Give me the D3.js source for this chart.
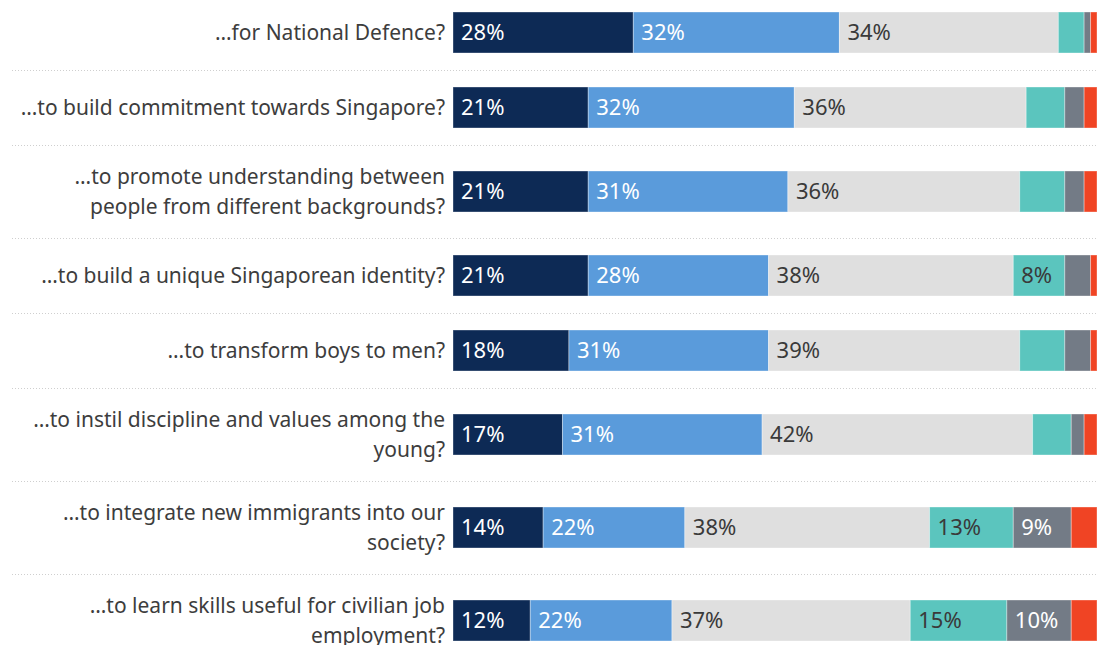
<!DOCTYPE html>
<html><head><meta charset="utf-8">
<script src="https://cdn.jsdelivr.net/npm/d3@7"></script>
<style>body{margin:0;background:#fff}svg{display:block}</style>
</head><body>
<svg id="c" width="1099" height="645"></svg>
<script>
const categories = [
  ["…for National Defence?"],
  ["…to build commitment towards Singapore?"],
  ["…to promote understanding between", "people from different backgrounds?"],
  ["…to build a unique Singaporean identity?"],
  ["…to transform boys to men?"],
  ["…to instil discipline and values among the", "young?"],
  ["…to integrate new immigrants into our", "society?"],
  ["…to learn skills useful for civilian job", "employment?"]
];
const seriesNames = ["s1","s2","s3","s4","s5","s6"];
const s1 = [28,21,21,21,18,17,14,12];
const s2 = [32,32,31,28,31,31,22,22];
const s3 = [34,36,36,38,39,42,38,37];
const s4 = [4,6,7,8,7,6,13,15];
const s5 = [1,3,3,4,4,2,9,10];
const s6 = [1,2,2,1,1,2,4,4];
const colors = ["#0d2a55","#5a9bdb","#dfdfdf","#5bc5be","#737b86","#f04424"];
const textColors = ["#fff","#fff","#3a3a3a","#3a3a3a","#fff","#fff"];

const series = [s1,s2,s3,s4,s5,s6];
const svg = d3.select("#c");
const x = d3.scaleLinear().domain([0,100]).range([453,1097]);
const barH = 41;
const lineH = 30;
let y0 = -5;
const rows = categories.map((lines,i)=>{
  const h = lines.length > 1 ? 93 : 75;
  const r = {top:y0, h, mid:y0+h/2};
  y0 += h;
  return r;
});

rows.slice(1).forEach(r=>{
  svg.append("line").attr("x1",12).attr("x2",1097).attr("y1",r.top+0.5).attr("y2",r.top+0.5)
    .attr("stroke","#cfcfcf").attr("stroke-width",1).attr("stroke-dasharray","1,2");
});

const font = "'Noto Sans', 'Open Sans', sans-serif";
categories.forEach((lines,i)=>{
  const r = rows[i];
  const t = svg.append("text").attr("x",445).attr("text-anchor","end")
    .attr("font-family",font).attr("font-size",21).attr("fill","#3d3d3d");
  const startY = r.mid - (lines.length-1)*lineH/2;
  lines.forEach((ln,j)=>{
    t.append("tspan").attr("x",445).attr("y",startY + j*lineH).attr("dy","0.35em").text(ln);
  });
  let cum = 0;
  series.forEach((s,k)=>{
    const v = s[i];
    const x0 = x(cum), x1 = x(cum+v);
    svg.append("rect").attr("x",x0).attr("y",r.mid-barH/2).attr("width",x1-x0).attr("height",barH)
      .attr("fill",colors[k]).attr("stroke","#ffffff").attr("stroke-opacity",0.35).attr("stroke-width",1);
    if (v >= 8) {
      svg.append("text").attr("x",x0+8).attr("y",r.mid).attr("dy","0.36em")
        .attr("font-family",font).attr("font-size",22).attr("fill",textColors[k]).text(v+"%");
    }
    cum += v;
  });
});
</script>
</body></html>
